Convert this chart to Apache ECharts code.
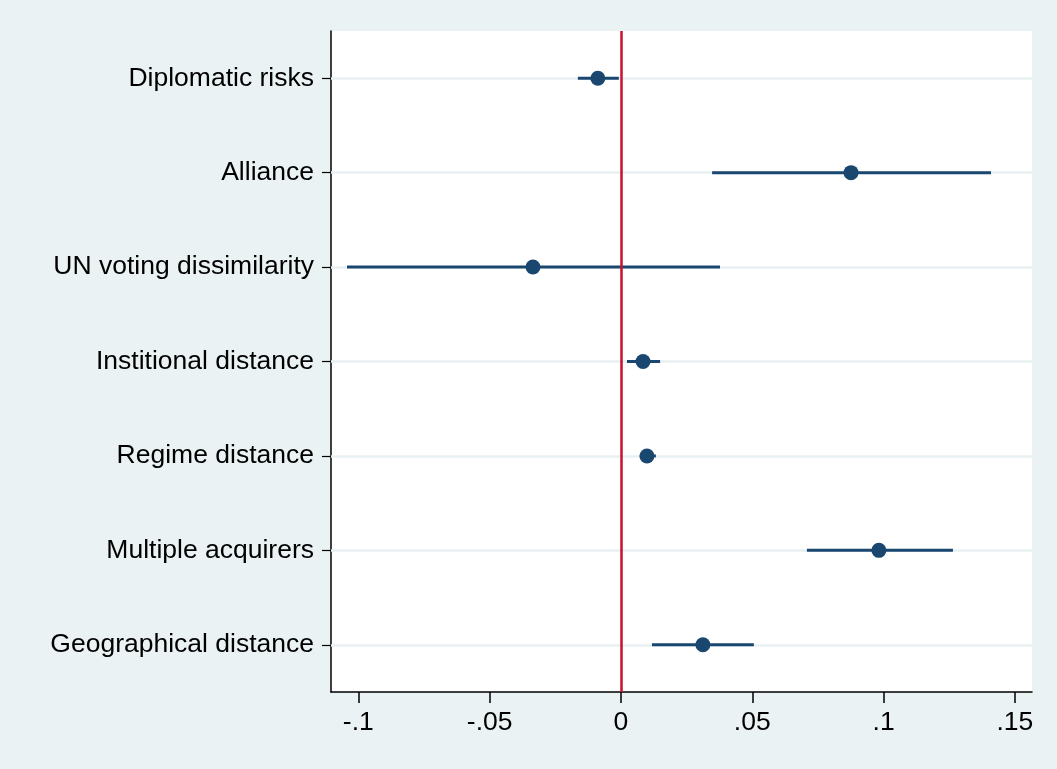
<!DOCTYPE html>
<html>
<head>
<meta charset="utf-8">
<script src="https://cdn.jsdelivr.net/npm/echarts@6/dist/echarts.min.js"></script>
<style>
  html, body { margin: 0; padding: 0; background: #eaf2f3; }
  #chart { width: 1057px; height: 769px; }
</style>
</head>
<body>
<div id="chart"></div>
<script>
// variables, top to bottom
const categories = [
  'Diplomatic risks', 'Alliance', 'UN voting dissimilarity', 'Institional distance',
  'Regime distance', 'Multiple acquirers', 'Geographical distance'
];
// point estimates
const estimates = [-0.0088, 0.0876, -0.0335, 0.0084, 0.0099, 0.0982, 0.0312];
// confidence interval bounds
const ciLower = [-0.0164, 0.0347, -0.1043, 0.0023, 0.0072, 0.0708, 0.0118];
const ciUpper = [-0.0008, 0.1409, 0.0377, 0.0149, 0.0133, 0.1264, 0.0506];
// x tick values
const xTicks = [-0.1, -0.05, 0, 0.05, 0.1, 0.15];

const navy = '#1a476f';
const chart = echarts.init(document.getElementById('chart'));

const fmtTick = v => {
  if (v === 0) return '0';
  const s = String(Math.round(v * 100) / 100);
  return s.replace('0.', '.');
};

const option = {
  backgroundColor: '#eaf2f3',
  animation: false,
  grid: {
    left: 331, right: 25, top: 31, bottom: 77,
    show: true, backgroundColor: '#ffffff', borderWidth: 0
  },
  xAxis: {
    type: 'value',
    min: -0.1104,
    max: 0.1565,
    axisLine: { show: true, onZero: false, lineStyle: { color: '#000', width: 1.5 } },
    axisTick: { show: true, length: 11, customValues: xTicks, lineStyle: { color: '#000', width: 1.5 } },
    axisLabel: {
      customValues: xTicks,
      formatter: fmtTick,
      color: '#000', fontSize: 26.5, fontFamily: 'Liberation Sans, Arial', margin: 17
    },
    splitLine: { show: false }
  },
  yAxis: {
    type: 'category',
    data: categories,
    inverse: true,
    axisLine: { show: true, onZero: false, lineStyle: { color: '#000', width: 1.5 } },
    axisTick: { show: true, alignWithLabel: true, length: 9, lineStyle: { color: '#000', width: 1.2 } },
    axisLabel: { color: '#000', fontSize: 26.5, fontFamily: 'Liberation Sans, Arial', margin: 17, padding: [6, 0, 0, 0] },
    splitLine: { show: false }
  },
  series: [
    {
      // light horizontal gridlines
      type: 'line',
      data: [],
      silent: true,
      markLine: {
        z: 1,
        symbol: 'none',
        silent: true,
        label: { show: false },
        lineStyle: { color: '#e8f0f2', width: 2.5, type: 'solid' },
        data: categories.map(c => ({ yAxis: c }))
      }
    },
    {
      // confidence interval bars
      type: 'custom',
      data: categories.map((c, i) => [ciLower[i], ciUpper[i], i]),
      encode: { x: [0, 1], y: 2 },
      renderItem: (params, api) => {
        const a = api.coord([api.value(0), api.value(2)]);
        const b = api.coord([api.value(1), api.value(2)]);
        const h = 3;
        return {
          type: 'rect',
          shape: { x: a[0], y: a[1] - h / 2, width: b[0] - a[0], height: h },
          style: { fill: navy }
        };
      },
      z: 3
    },
    {
      type: 'scatter',
      data: categories.map((c, i) => [estimates[i], i]),
      symbol: 'circle',
      symbolSize: 15,
      itemStyle: { color: navy, opacity: 1 },
      z: 4,
      // zero reference line
      markLine: {
        z: 5,
        symbol: 'none',
        silent: true,
        label: { show: false },
        lineStyle: { color: '#c8102e', width: 2.5, type: 'solid' },
        data: [{ xAxis: 0 }]
      }
    }
  ]
};

chart.setOption(option);
</script>
</body>
</html>
